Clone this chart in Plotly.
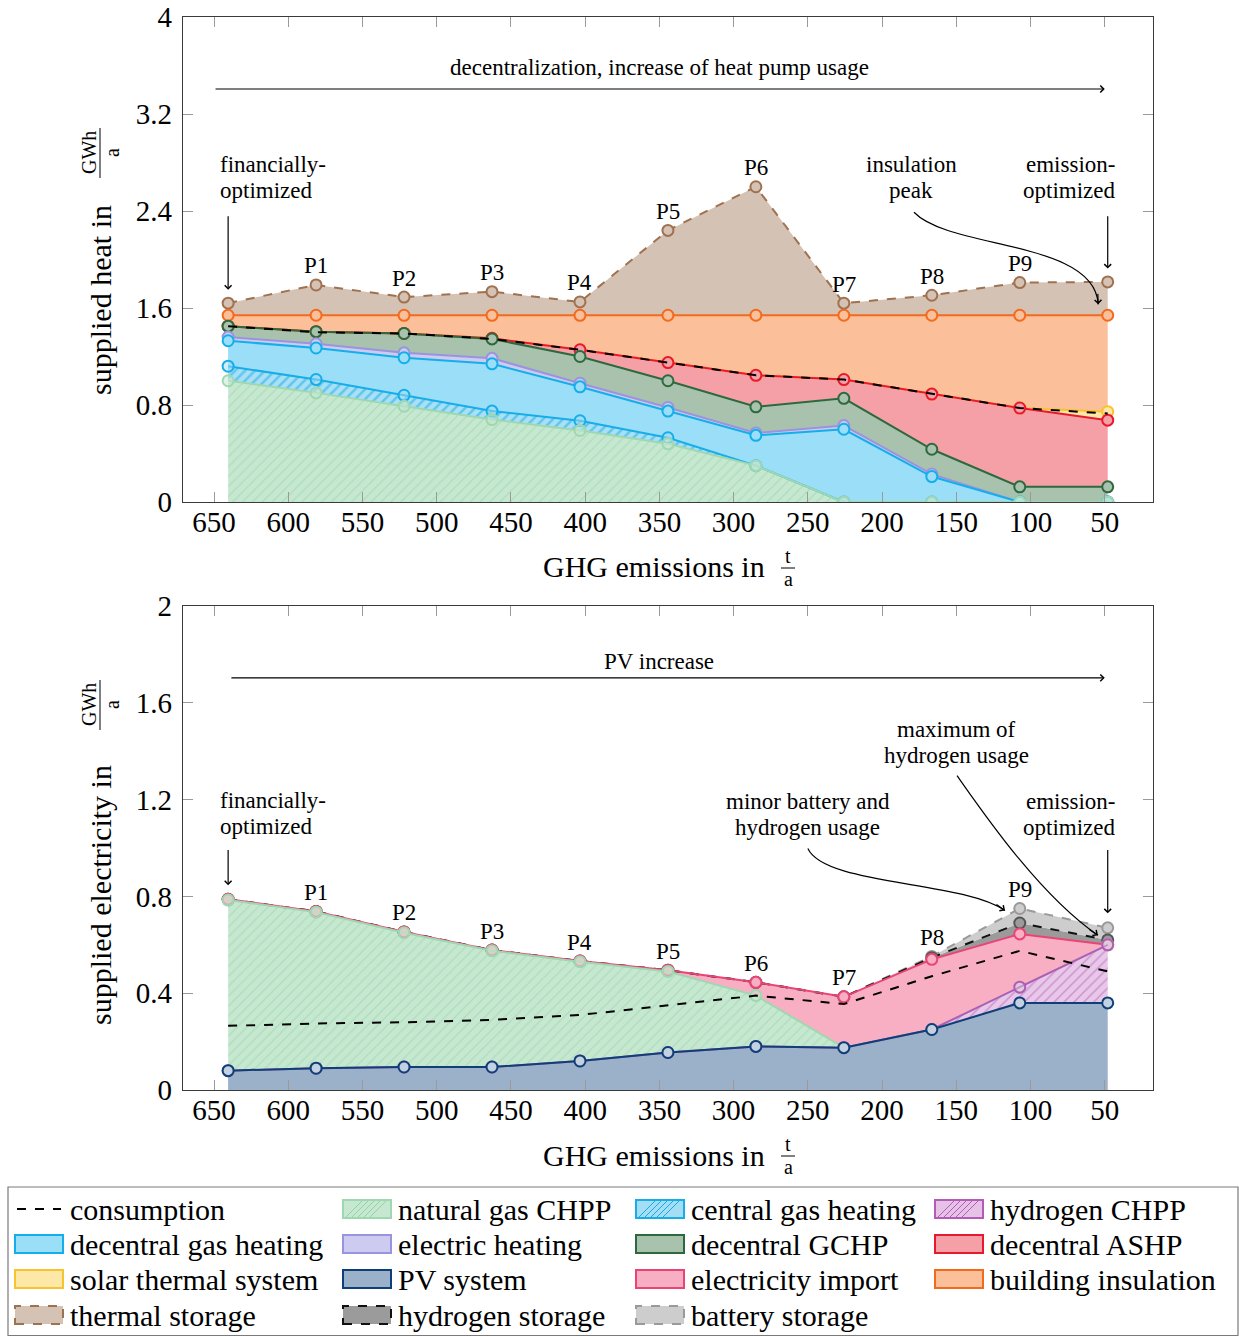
import numpy as np
import plotly.graph_objects as go

# ---------------------------------------------------------------- data
# Pareto points from the financial optimum (left) to the emission optimum (right)
emissions = [640.5, 581.25, 522.0, 462.75, 403.5, 344.25, 285.0, 225.75, 166.5, 107.25, 48.0]
point_labels = ["", "P1", "P2", "P3", "P4", "P5", "P6", "P7", "P8", "P9", ""]

# supplied heat per technology in GWh/a (stacked bottom to top)
heat_natural_gas_chpp = [1.00, 0.90, 0.79, 0.68, 0.59, 0.48, 0.30, 0.0, 0.0, 0.0, 0.0]
heat_central_gas = [0.12, 0.11, 0.09, 0.07, 0.08, 0.05, 0.0, 0.0, 0.0, 0.0, 0.0]
heat_decentral_gas = [0.21, 0.26, 0.31, 0.39, 0.28, 0.22, 0.25, 0.60, 0.21, 0.0, 0.0]
heat_electric = [0.03, 0.035, 0.04, 0.045, 0.03, 0.03, 0.02, 0.03, 0.02, 0.0, 0.0]
heat_gchp = [0.09, 0.10, 0.16, 0.16, 0.22, 0.22, 0.215, 0.225, 0.205, 0.125, 0.125]
heat_ashp = [0.0, 0.0, 0.0, 0.005, 0.055, 0.15, 0.26, 0.155, 0.455, 0.65, 0.55]
heat_solar_thermal = [0.0, 0.0, 0.0, 0.0, 0.0, 0.0, 0.0, 0.0, 0.0, 0.0, 0.07]
heat_insulation = [0.09, 0.135, 0.15, 0.19, 0.285, 0.39, 0.495, 0.53, 0.65, 0.765, 0.795]
heat_thermal_storage = [0.10, 0.25, 0.15, 0.195, 0.11, 0.70, 1.06, 0.10, 0.165, 0.27, 0.275]
heat_consumption = [1.45, 1.40, 1.39, 1.345, 1.255, 1.15, 1.045, 1.01, 0.89, 0.775, 0.73]

# supplied electricity per technology in GWh/a (stacked bottom to top)
el_pv = [0.08, 0.09, 0.095, 0.095, 0.12, 0.155, 0.18, 0.175, 0.25, 0.36, 0.36]
el_hydrogen_chpp = [0.0, 0.0, 0.0, 0.0, 0.0, 0.0, 0.0, 0.0, 0.0, 0.065, 0.24]
el_natural_gas_chpp = [0.705, 0.645, 0.555, 0.48, 0.41, 0.335, 0.21, 0.0, 0.0, 0.0, 0.0]
el_import = [0.003, 0.003, 0.003, 0.003, 0.003, 0.005, 0.055, 0.21, 0.29, 0.22, 0.0]
el_hydrogen_storage = [0.0, 0.0, 0.0, 0.0, 0.0, 0.0, 0.0, 0.0, 0.007, 0.045, 0.02]
el_battery = [0.0, 0.0, 0.0, 0.0, 0.0, 0.0, 0.0, 0.0, 0.005, 0.06, 0.05]
el_consumption = [0.265, 0.275, 0.28, 0.29, 0.31, 0.35, 0.39, 0.355, 0.47, 0.575, 0.49]

x_ticks = [650, 600, 550, 500, 450, 400, 350, 300, 250, 200, 150, 100, 50]
heat_ticks = [0, 0.8, 1.6, 2.4, 3.2, 4]
heat_tick_text = ["0", "0.8", "1.6", "2.4", "3.2", "4"]
el_ticks = [0, 0.4, 0.8, 1.2, 1.6, 2]
el_tick_text = ["0", "0.4", "0.8", "1.2", "1.6", "2"]

legend_rows = [
    ["consumption", "natural gas CHPP", "central gas heating", "hydrogen CHPP"],
    ["decentral gas heating", "electric heating", "decentral GCHP", "decentral ASHP"],
    ["solar thermal system", "PV system", "electricity import", "building insulation"],
    ["thermal storage", "hydrogen storage", "battery storage"],
]

# ---------------------------------------------------------------- styles
FONT = "Liberation Serif"
W, H = 1239, 1336

STYLE = {
    "natural gas CHPP": dict(fill="#c6e8d0", line="#9fd8b0", mfill="rgba(198,232,208,0.55)", hatch="#94d1a6",
                             pattern=dict(shape="/", fgcolor="#94d1a6", bgcolor="#c6e8d0", size=7, solidity=0.18)),
    "central gas heating": dict(fill="#a3def5", line="#17ade8", mfill="rgba(163,222,245,0.5)", hatch="#1aa9e3",
                                pattern=dict(shape="/", fgcolor="#1aa9e3", bgcolor="#a8e0f6", size=7, solidity=0.35)),
    "hydrogen CHPP": dict(fill="#e6c3e6", line="#b45bb8", mfill="rgba(230,195,230,0.5)", hatch="#b45bb8",
                          pattern=dict(shape="/", fgcolor="#b45bb8", bgcolor="#e8c8e8", size=7, solidity=0.22)),
    "decentral gas heating": dict(fill="#9adef8", line="#14aeea", mfill="#9adef8"),
    "electric heating": dict(fill="#cecbf1", line="#9a94e0", mfill="#cecbf1"),
    "decentral GCHP": dict(fill="#a8c2ad", line="#2c6a3d", mfill="#a8c2ad"),
    "decentral ASHP": dict(fill="#f5a0a7", line="#e8192f", mfill="#f5a0a7"),
    "solar thermal system": dict(fill="#fde8a8", line="#f8c331", mfill="#fde8a8"),
    "PV system": dict(fill="#9ab1c9", line="#0f3f78", mfill="#c3d1e0"),
    "electricity import": dict(fill="#f8afc4", line="#ea4475", mfill="#f8afc4"),
    "building insulation": dict(fill="#fbbf9a", line="#f26a1c", mfill="#fbbf9a"),
    "thermal storage": dict(fill="#d4c2b5", line="#a0714f", mfill="#d4c2b5", dash="dash"),
    "hydrogen storage": dict(fill="#9b9b9b", line="#111111", mline="#555555", mfill="#9b9b9b", dash="dash"),
    "battery storage": dict(fill="#cdcdcd", line="#9a9a9a", mfill="#cdcdcd", dash="dash"),
}

heat_layers = [
    ("natural gas CHPP", heat_natural_gas_chpp),
    ("central gas heating", heat_central_gas),
    ("decentral gas heating", heat_decentral_gas),
    ("electric heating", heat_electric),
    ("decentral GCHP", heat_gchp),
    ("decentral ASHP", heat_ashp),
    ("solar thermal system", heat_solar_thermal),
    ("building insulation", heat_insulation),
    ("thermal storage", heat_thermal_storage),
]
el_layers = [
    ("PV system", el_pv),
    ("hydrogen CHPP", el_hydrogen_chpp),
    ("natural gas CHPP", el_natural_gas_chpp),
    ("electricity import", el_import),
    ("hydrogen storage", el_hydrogen_storage),
    ("battery storage", el_battery),
]

fig = go.Figure()


def add_stack(layers, xa, ya):
    tops = np.cumsum([np.asarray(v, dtype=float) for _, v in layers], axis=0)
    # areas, bottom to top
    for i, ((name, _), top) in enumerate(zip(layers, tops)):
        st = STYLE[name]
        kw = dict(fillpattern=st["pattern"]) if "pattern" in st else {}
        fig.add_trace(go.Scatter(
            x=emissions, y=top, mode="none", fill="tozeroy" if i == 0 else "tonexty",
            fillcolor=st["fill"], xaxis=xa, yaxis=ya, showlegend=False, hoverinfo="skip", **kw))
    # outlines with markers, upper layers first so lower ones stay on top
    for (name, _), top in reversed(list(zip(layers, tops))):
        st = STYLE[name]
        fig.add_trace(go.Scatter(
            x=emissions, y=top, mode="lines+markers", xaxis=xa, yaxis=ya, showlegend=False,
            line=dict(color=st["line"], width=2, dash=st.get("dash", "solid")),
            marker=dict(symbol="circle", size=11, color=st["mfill"],
                        line=dict(color=st.get("mline", st["line"]), width=2)),
            hoverinfo="skip"))
    return tops


heat_tops = add_stack(heat_layers, "x", "y")
el_tops = add_stack(el_layers, "x2", "y2")

for cons, xa, ya in [(heat_consumption, "x", "y"), (el_consumption, "x2", "y2")]:
    fig.add_trace(go.Scatter(x=emissions, y=cons, mode="lines", xaxis=xa, yaxis=ya, showlegend=False,
                             line=dict(color="black", width=2, dash="dash"), hoverinfo="skip"))

# ---------------------------------------------------------------- annotations
ann = []
shapes = []
NOTE = 23
LINE = 26


def px(v):
    return v / W


def py(v):
    return 1 - v / H


def label(text, x, y, xref="paper", yref="paper", size=NOTE, xanchor="center", yanchor="middle", **kw):
    ann.append(dict(text=text, x=x, y=y, xref=xref, yref=yref, showarrow=False,
                    xanchor=xanchor, yanchor=yanchor,
                    font=dict(family=FONT, size=size, color="black"), **kw))


def text_block(lines, x, y, xref, yref, xanchor="center", size=NOTE):
    n = len(lines)
    for k, line in enumerate(lines):
        label(line, x, y, xref, yref, size=size, xanchor=xanchor, yshift=((n - 1) / 2 - k) * LINE)


def arrow(x0, y0, x1, y1, xref, yref):
    ann.append(dict(text="", x=x1, y=y1, ax=x0, ay=y0, xref=xref, yref=yref, axref=xref, ayref=yref,
                    showarrow=True, arrowhead=4, arrowsize=1.1, arrowwidth=1.2, arrowcolor="black",
                    standoff=0, startstandoff=0))


def curved_arrow(p0, p1, p2, p3, xref, yref, head_dx, head_dy):
    path = "M {},{} C {},{} {},{} {},{}".format(*p0, *p1, *p2, *p3)
    shapes.append(dict(type="path", path=path, xref=xref, yref=yref,
                       line=dict(color="black", width=1.2)))
    ann.append(dict(text="", x=p3[0], y=p3[1], ax=head_dx, ay=head_dy, xref=xref, yref=yref,
                    showarrow=True, arrowhead=4, arrowsize=1.1, arrowwidth=1.2, arrowcolor="black",
                    standoff=0, startstandoff=0))


heat_top = heat_tops[-1]
el_top = el_tops[-1]

# point labels above the top of each stack
for i, lab in enumerate(point_labels):
    if not lab:
        continue
    label(lab, emissions[i], heat_top[i], "x", "y", yshift=19)
    label(lab, emissions[i], el_top[i], "x2", "y2", yshift=19)

# heat panel
text_block(["decentralization, increase of heat pump usage"], 350, 3.58, "x", "y")
arrow(650, 3.406, 50, 3.406, "x", "y")
text_block(["financially-", "optimized"], 647, 2.68, "x", "y", xanchor="left")
arrow(emissions[0], 2.37, emissions[0], heat_top[0] + 0.11, "x", "y")
text_block(["insulation", "peak"], 180.5, 2.68, "x", "y")
curved_arrow((178.5, 2.39), (154.2, 2.08), (56.5, 2.16), (54.4, 1.63), "x", "y", -0.5, -12)
text_block(["emission-", "optimized"], 41.7, 2.68, "x", "y", xanchor="right")
arrow(emissions[-1], 2.37, emissions[-1], heat_top[-1] + 0.11, "x", "y")

# electricity panel
text_block(["PV increase"], 350, 1.769, "x2", "y2")
arrow(639.3, 1.703, 50, 1.703, "x2", "y2")
text_block(["financially-", "optimized"], 647, 1.142, "x2", "y2", xanchor="left")
arrow(emissions[0], 0.998, emissions[0], el_top[0] + 0.058, "x2", "y2")
text_block(["minor battery and", "hydrogen usage"], 250, 1.138, "x2", "y2")
curved_arrow((250, 0.998), (238.4, 0.845), (147.5, 0.866), (117.2, 0.742), "x2", "y2", -10, -7)
text_block(["maximum of", "hydrogen usage"], 150.2, 1.435, "x2", "y2")
curved_arrow((149.5, 1.299), (130.6, 1.134), (93.6, 0.804), (54.6, 0.639), "x2", "y2", -10, -7)
text_block(["emission-", "optimized"], 41.7, 1.138, "x2", "y2", xanchor="right")
arrow(emissions[-1], 0.998, emissions[-1], el_top[-1] + 0.06, "x2", "y2")

# axis titles with unit fractions
TITLE = 30
FRAC = 20


def xtitle(cy):
    label("GHG emissions in", px(654), py(cy), size=TITLE)
    label("t", px(788), py(cy - 11), size=FRAC)
    label("a", px(788), py(cy + 12), size=FRAC)
    shapes.append(dict(type="line", xref="paper", yref="paper", x0=px(781), x1=px(795),
                       y0=py(cy + 1), y1=py(cy + 1), line=dict(color="black", width=1)))


def ytitle(text, cy, fy):
    label(text, px(100), py(cy), size=TITLE, textangle=-90)
    label("GWh", px(89), py(fy), size=FRAC, textangle=-90)
    label("a", px(112), py(fy), size=FRAC, textangle=-90)
    shapes.append(dict(type="line", xref="paper", yref="paper", x0=px(100), x1=px(100),
                       y0=py(fy - 25), y1=py(fy + 25), line=dict(color="black", width=1)))


xtitle(567)
xtitle(1155)
ytitle("supplied heat in", 300, 153)
ytitle("supplied electricity in", 895, 705)

# ---------------------------------------------------------------- legend
LEG_COL_X = [15, 343, 636, 935]
LEG_ROW_Y = [1209, 1244, 1279, 1315]
SW, SH = 48, 18

shapes.append(dict(type="rect", xref="paper", yref="paper", x0=px(8), x1=px(1238), y0=py(1187),
                   y1=py(1335.5), line=dict(color="#7a7a7a", width=1.2), fillcolor="rgba(0,0,0,0)"))
for r, row in enumerate(legend_rows):
    for c, name in enumerate(row):
        x0, yc = LEG_COL_X[c], LEG_ROW_Y[r]
        if name == "consumption":
            shapes.append(dict(type="line", xref="paper", yref="paper", x0=px(x0 + 2), x1=px(x0 + 46),
                               y0=py(yc), y1=py(yc), line=dict(color="black", width=2, dash="dash")))
        else:
            st = STYLE[name]
            shapes.append(dict(type="rect", xref="paper", yref="paper", x0=px(x0), x1=px(x0 + SW),
                               y0=py(yc + SH / 2), y1=py(yc - SH / 2), fillcolor=st["fill"],
                               line=dict(color=st["line"], width=2, dash=st.get("dash", "solid"))))
            if "hatch" in st:
                for hx in range(x0 + 3, x0 + SW - SH + 1, 6):
                    shapes.append(dict(type="line", xref="paper", yref="paper",
                                       x0=px(hx), x1=px(hx + SH - 2), y0=py(yc + SH / 2 - 1),
                                       y1=py(yc - SH / 2 + 1), line=dict(color=st["hatch"], width=1)))
        label(name, px(x0 + 53), py(yc), size=30, xanchor="left")

# ---------------------------------------------------------------- layout
axis = dict(showline=True, linecolor="#3a3a3a", linewidth=1.3, mirror="ticks", ticks="inside",
            ticklen=10, tickwidth=1.2, tickcolor="#9a9a9a", showgrid=False, zeroline=False,
            tickfont=dict(family=FONT, size=29, color="black"))
xdom = [px(183), px(1153)]
fig.update_layout(
    width=W, height=H, margin=dict(l=0, r=0, t=0, b=0, autoexpand=False),
    paper_bgcolor="white", plot_bgcolor="white", showlegend=False,
    xaxis=dict(axis, domain=xdom, range=[670.9, 17.5], tickvals=x_ticks, anchor="y", ticklabelstandoff=-6),
    yaxis=dict(axis, domain=[py(502), py(17)], range=[0, 4], tickvals=heat_ticks,
               ticktext=heat_tick_text, anchor="x", ticklabelstandoff=4),
    xaxis2=dict(axis, domain=xdom, range=[670.9, 17.5], tickvals=x_ticks, anchor="y2", ticklabelstandoff=-6),
    yaxis2=dict(axis, domain=[py(1090), py(606)], range=[0, 2], tickvals=el_ticks,
                ticktext=el_tick_text, anchor="x2", ticklabelstandoff=4),
    annotations=ann, shapes=shapes,
)

fig.write_html("out.html")
